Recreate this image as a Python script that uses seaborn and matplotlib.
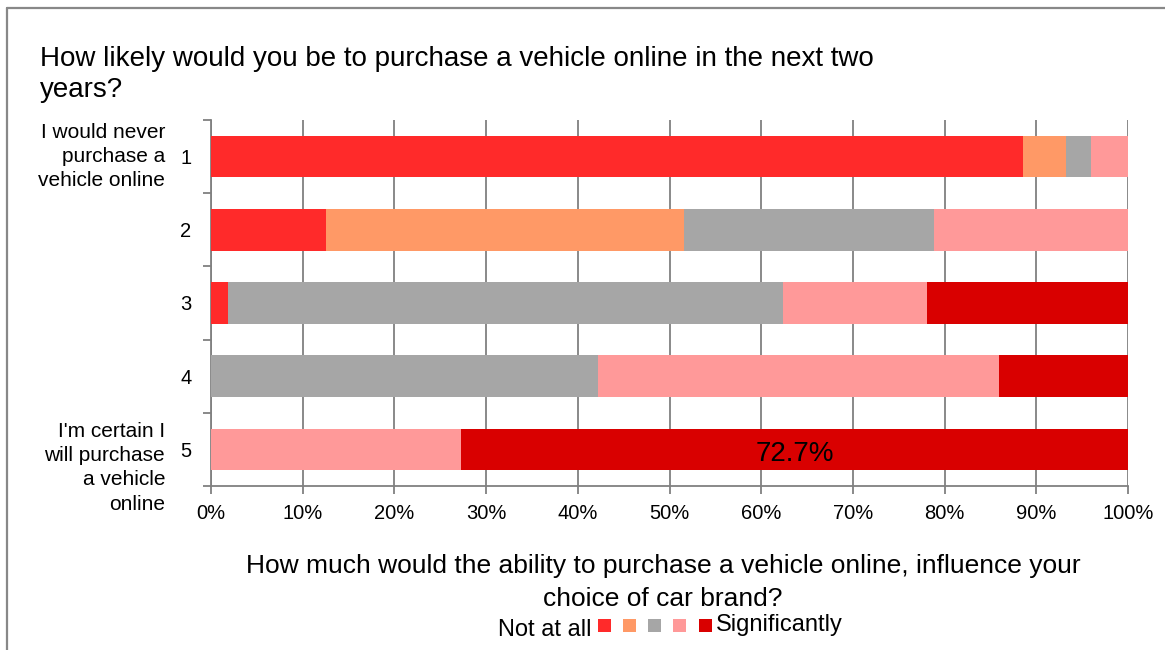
import matplotlib
matplotlib.use("Agg")
import matplotlib.pyplot as plt
import matplotlib.patches as mpatches
from matplotlib.lines import Line2D
import seaborn as sns
import numpy as np
import pandas as pd

categories = ["1", "2", "3", "4", "5"]
cat_long = ["I would never\npurchase a\nvehicle online", "", "", "", "I'm certain I\nwill purchase\na vehicle\nonline"]
s1 = [88.5, 12.5, 1.9, 0.0, 0.0]
s2 = [4.7, 39.1, 0.0, 0.0, 0.0]
s3 = [2.8, 27.2, 60.5, 42.2, 0.0]
s4 = [4.0, 21.2, 15.7, 43.7, 27.3]
s5 = [0.0, 0.0, 21.9, 14.1, 72.7]
colors = ["#FF2A2A", "#FF9966", "#A6A6A6", "#FF9999", "#D90000"]
xticks = [0, 10, 20, 30, 40, 50, 60, 70, 80, 90, 100]

sns.set_theme(style="white")
plt.rcParams["font.family"] = ["Liberation Sans", "DejaVu Sans"]
plt.rcParams["text.color"] = "black"

fig = plt.figure(figsize=(11.65, 6.5), dpi=100)
W, H = 1165, 650
ax = fig.add_axes([211 / W, 1 - 486 / H, (1128 - 211) / W, (486 - 120) / H])

series = [s1, s2, s3, s4, s5]
cum = np.cumsum(np.array(series), axis=0)
for i in range(len(series) - 1, -1, -1):
    df = pd.DataFrame({"cat": categories, "val": cum[i]})
    sns.barplot(data=df, x="val", y="cat", orient="h", color=colors[i],
                width=0.57, saturation=1, ax=ax, zorder=3, linewidth=0)

ax.set_xlim(0, 100)
ax.set_ylim(4.5, -0.5)
ax.set_xticks(xticks)
ax.set_xticklabels([f"{t}%" for t in xticks], fontsize=14.5)
ax.set_yticks(range(5))
ax.set_yticklabels(categories, fontsize=14.5)
ax.set_xlabel("")
ax.set_ylabel("")
ax.grid(axis="x", color="#808080", linewidth=1.3, zorder=0)
ax.set_axisbelow(True)
for s in ["top", "right"]:
    ax.spines[s].set_visible(False)
ax.spines["left"].set_color("#808080")
ax.spines["bottom"].set_color("#808080")
ax.spines["left"].set_linewidth(1.3)
ax.spines["bottom"].set_linewidth(1.3)
ax.tick_params(axis="x", which="major", bottom=True, length=6, color="#808080", width=1.3, pad=7, labelcolor="black")
ax.tick_params(axis="y", which="major", left=False, pad=8, labelcolor="black")
ax.set_yticks([-0.5, 0.5, 1.5, 2.5, 3.5, 4.5], minor=True)
ax.tick_params(axis="y", which="minor", left=True, length=6, color="#808080", width=1.3)

# long category labels
label_offsets = [0.0, 0.0, 0.0, 0.0, 0.25]
for i, lab in enumerate(cat_long):
    if lab:
        ax.text(-0.05, i + label_offsets[i], lab, transform=ax.get_yaxis_transform(), ha="right", va="center",
                fontsize=15, linespacing=1.36, color="black")

# data label
ax.text(s4[4] + s5[4] / 2, 4.06, f"{s5[4]:.1f}%", ha="center", va="center", fontsize=20, color="black", zorder=5)

# title
fig.text(40 / W, 1 - 46 / H, "How likely would you be to purchase a vehicle online in the next two\nyears?",
         ha="left", va="top", fontsize=20, linespacing=1.23)

# x axis title
fig.text(663 / W, 1 - 554 / H, "How much would the ability to purchase a vehicle online, influence your\nchoice of car brand?",
         ha="center", va="top", fontsize=19, linespacing=1.45)

# legend
fig.text(591 / W, 1 - 630 / H, "Not at all", ha="right", va="center", fontsize=17)
sq_x = [598, 623, 648, 673, 699]
for x0, c in zip(sq_x, colors):
    fig.patches.append(mpatches.Rectangle((x0 / W, 1 - 632 / H), 13 / W, 13 / H,
                                          transform=fig.transFigure, facecolor=c, edgecolor="none"))
fig.text(716 / W, 1 - 625 / H, "Significantly", ha="left", va="center", fontsize=17)

# outer frame (top and left edges only, as in the reference)
fig.add_artist(Line2D([7 / W, 7 / W], [0, 1 - 8 / H], transform=fig.transFigure, color="#888888", linewidth=1.6))
fig.add_artist(Line2D([7 / W, 1], [1 - 8 / H, 1 - 8 / H], transform=fig.transFigure, color="#888888", linewidth=1.6))

fig.savefig("out.png", dpi=100)
